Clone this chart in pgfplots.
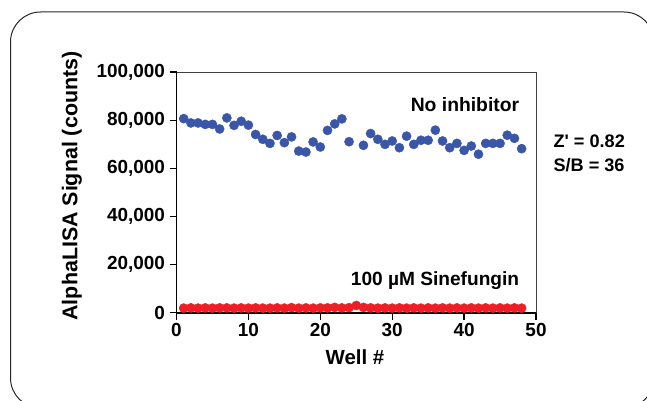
\documentclass[border=0pt]{standalone}
\usepackage{pgfplots}
\pgfplotsset{compat=1.18}
\usepackage{fontspec}
\setmainfont{Liberation Sans}

\definecolor{noinh}{RGB}{58,86,168}
\definecolor{sinef}{RGB}{237,30,38}

\pgfplotstableread{
x y
1 80700
2 78900
3 78900
4 78300
5 78300
6 76400
7 81000
8 77900
9 79600
10 78000
11 74100
12 72100
13 70400
14 73700
15 70700
16 73100
17 67200
18 66800
19 71000
20 68900
21 75800
22 78500
23 80600
24 71100
26 69600
27 74500
28 72100
29 70000
30 71400
31 68600
32 73400
33 70000
34 71700
35 71700
36 75900
37 71400
38 68600
39 70400
40 67500
41 69300
42 65900
43 70400
44 70400
45 70400
46 73800
47 72500
48 68200
}\noinhibitor

\pgfplotstableread{
x y
1 1900
2 2000
3 1900
4 2000
5 1900
6 2000
7 2000
8 1900
9 2000
10 1900
11 2000
12 1900
13 1900
14 2000
15 1900
16 2100
17 1900
18 2000
19 1900
20 2000
21 2000
22 2200
23 2000
24 2100
25 3000
26 2200
27 2000
28 1900
29 2000
30 1900
31 2000
32 1900
33 2000
34 1900
35 2000
36 1900
37 2000
38 1900
39 2000
40 1900
41 2000
42 1900
43 2000
44 1900
45 2000
46 1900
47 2000
48 1900
}\sinefungin

\begin{document}
\begin{tikzpicture}[x=1bp,y=1bp]
  \useasboundingbox (0,0) rectangle (647,400);
  \draw[line width=1bp, black!85, rounded corners=30bp] (10.5,-8) rectangle (654,388);
  \begin{axis}[
    scale only axis,
    width=359.5bp, height=240.5bp,
    at={(176.5bp,87.3bp)}, anchor=south west,
    xmin=0, xmax=50, ymin=0, ymax=100000,
    xtick={0,10,...,50},
    ytick={0,20000,...,100000},
    scaled y ticks=false,
    axis lines*=left,
    axis line style={line width=1.6bp, black},
    tick align=outside,
    major tick length=7bp,
    tick style={line width=1.4bp, black},
    clip=false,
    /pgf/number format/assume math mode=true,
    /pgf/number format/fixed,
    /pgf/number format/precision=0,
    /pgf/number format/1000 sep={,},
    yticklabel style={font=\fontsize{19}{20}\selectfont\bfseries, xshift=-1bp},
    xticklabel style={font=\fontsize{19}{20}\selectfont\bfseries},
  ]
  \draw[line width=1bp, black!75] (axis cs:0,100000) -- (axis cs:50,100000) -- (axis cs:50,0);
  \addplot[only marks, mark=*, mark size=4.6bp, mark options={draw=noinh, fill=noinh}] table[x=x, y=y] {\noinhibitor};
  \addplot[only marks, mark=*, mark size=4.6bp, mark options={draw=sinef, fill=sinef}] table[x=x, y=y] {\sinefungin};
  \end{axis}
  \node[font=\fontsize{21.5}{24}\selectfont\bfseries, rotate=90] at (72,214) {AlphaLISA Signal (counts)};
  \node[font=\fontsize{20.5}{24}\selectfont\bfseries] at (355,43) {Well \#};
  \node[font=\fontsize{19.4}{22}\selectfont\bfseries, anchor=east] at (522.7,295) {No inhibitor};
  \node[font=\fontsize{19.2}{22}\selectfont\bfseries, anchor=east] at (522.7,119.3) {100 µM Sinefungin};
  \node[font=\fontsize{18.2}{22}\selectfont\bfseries, anchor=west, inner sep=0pt] at (553.3,258.3) {Z\textquotesingle{} = 0.82};
  \node[font=\fontsize{18.2}{22}\selectfont\bfseries, anchor=west, inner sep=0pt] at (553.3,235) {S/B = 36};
\end{tikzpicture}
\end{document}
